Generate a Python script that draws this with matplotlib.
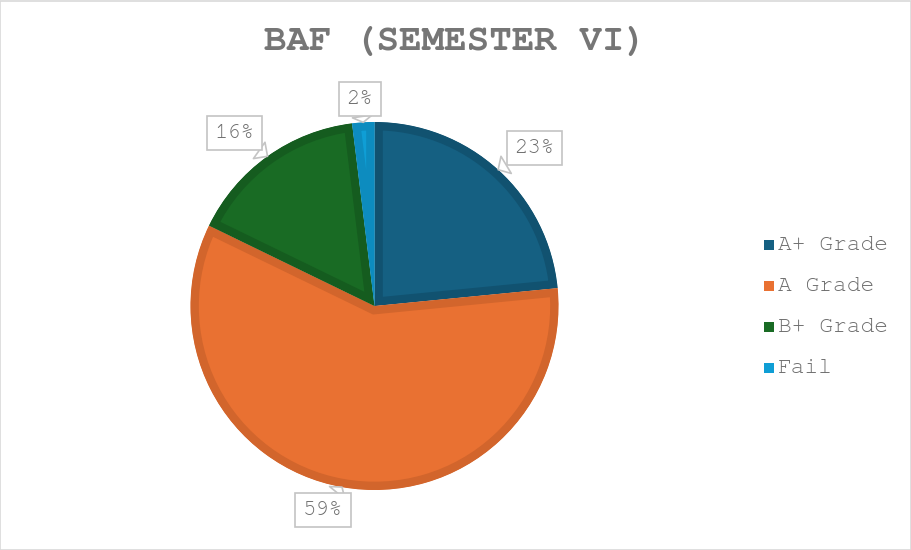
import numpy as np
import matplotlib
matplotlib.use('Agg')
import matplotlib.pyplot as plt
from matplotlib.patches import Rectangle

# data
grades = ['A+ Grade', 'A Grade', 'B+ Grade', 'Fail']
shares = [23.45, 58.75, 15.85, 1.95]

colors = ['#156082', '#e97132', '#196b24', '#0f9ed5']
edge_colors = ['#115270', '#d2652c', '#155c1f', '#0d8cbf']
# where the callout boxes sit (pie radius = 1)
label_pos = [(0.87, 0.86), (-0.28, -1.11), (-0.76, 0.94), (-0.08, 1.125)]

plt.rcParams['font.family'] = ['Courier New', 'Nimbus Mono PS', 'FreeMono',
                               'Liberation Mono', 'DejaVu Sans Mono']

fig = plt.figure(figsize=(9.12, 5.5), dpi=100)
W, H = 912, 550
cx, cy, r = 374.5, 306, 184
side = 460
ax = fig.add_axes([(cx - side / 2) / W, (H - cy - side / 2) / H, side / W, side / H])

wedges, _ = ax.pie(shares, colors=colors, startangle=90, counterclock=False,
                   radius=1)
for w, ec in zip(wedges, edge_colors):
    w.set_edgecolor(ec)
    w.set_linewidth(12)
    w.set_clip_on(True)
    w.set_clip_path(w)

for w, s, pos in zip(wedges, shares, label_pos):
    mid = np.deg2rad((w.theta1 + w.theta2) / 2)
    tip = (np.cos(mid), np.sin(mid))
    ax.annotate('%.0f%%' % s, xy=tip, xytext=pos, ha='center', va='center',
                fontsize=16, color='#6e6e6e', annotation_clip=False,
                bbox=dict(boxstyle='square,pad=0.35', fc='white', ec='#c4c4c4', lw=1.2),
                arrowprops=dict(arrowstyle='wedge,tail_width=0.9', fc='white',
                                ec='#c4c4c4', lw=1.2, shrinkA=0, shrinkB=0))

fig.text(455 / W, 1 - 42 / H, 'BAF (SEMESTER VI)', ha='center', va='center',
         fontsize=27, fontweight='bold', color='#767676')

# legend
for i, (g, c) in enumerate(zip(grades, colors)):
    y = 245 + 41 * i
    fig.patches.append(Rectangle((764 / W, 1 - (y + 5) / H), 10 / W, 10 / H,
                                 transform=fig.transFigure, fc=c, ec='none'))
    fig.text(778 / W, 1 - y / H, g, ha='left', va='center', fontsize=16.5,
             color='#6e6e6e')

fig.patches.append(Rectangle((0.5 / W, 0.5 / H), 1 - 1.5 / W, 1 - 1.5 / H,
                             transform=fig.transFigure, fill=False,
                             ec='#d9d9d9', lw=1.2))

fig.savefig('out.png', dpi=100, facecolor='white')
